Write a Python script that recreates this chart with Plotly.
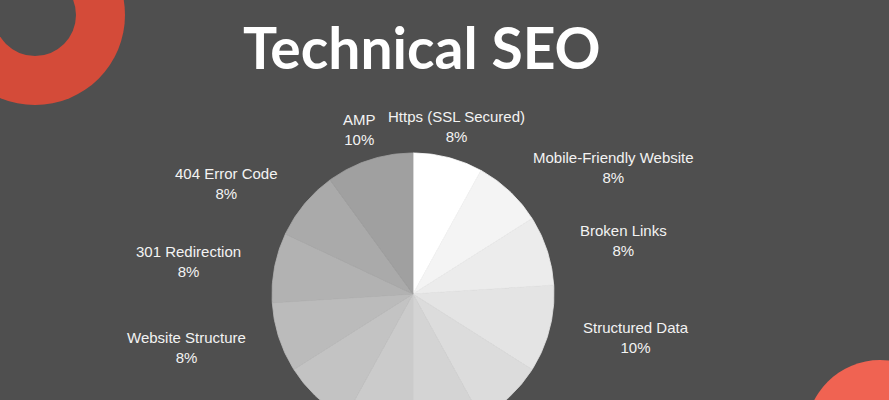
import math
import plotly.graph_objects as go

# Technical SEO factors, clockwise from 12 o'clock
categories = [
    "Https (SSL Secured)", "Mobile-Friendly Website", "Broken Links",
    "Structured Data", "Page Speed", "XML Sitemap", "Robots.txt",
    "Canonical Tags", "Website Structure", "301 Redirection",
    "404 Error Code", "AMP",
]
shares = [8, 8, 8, 10, 8, 8, 8, 8, 8, 8, 8, 10]
slice_colors = [
    "#ffffff", "#f4f4f4", "#ececec", "#e4e4e4", "#dcdcdc", "#d4d4d4",
    "#cbcbcb", "#c3c3c3", "#bbbbbb", "#b2b2b2", "#aaaaaa", "#a0a0a0",
]

W, H = 889, 400
BG = "#4f4f4f"
CX, CY, R = 413, 294, 141     # pie centre and radius (axis units = pixels)
LABEL_R = 173                 # radius at which labels are anchored

fig = go.Figure()

total = sum(shares)
start = 0.0
for name, val, col in zip(categories, shares, slice_colors):
    sweep = 360.0 * val / total
    steps = max(8, int(sweep))
    xs, ys = [CX], [CY]
    for i in range(steps + 1):
        a = math.radians(start + sweep * i / steps)
        xs.append(CX + R * math.sin(a))
        ys.append(CY - R * math.cos(a))
    xs.append(CX)
    ys.append(CY)
    fig.add_trace(go.Scatter(
        x=xs, y=ys, mode="lines", fill="toself", fillcolor=col,
        line=dict(color=col, width=0.8), hoverinfo="text",
        text=f"{name}: {val}%", showlegend=False,
    ))

    mid = math.radians(start + sweep / 2)
    s = math.sin(mid)
    lx = CX + LABEL_R * s
    ly = CY - LABEL_R * math.cos(mid)
    if abs(s) < 0.5:
        anchor = "center"
    elif s > 0:
        anchor = "left"
    else:
        anchor = "right"
    fig.add_annotation(
        x=lx, y=ly, xref="x", yref="y", text=f"{name}<br>{val:g}%",
        showarrow=False, xanchor=anchor, yanchor="middle", align="center",
        font=dict(family="Liberation Sans, Arial, sans-serif", size=15,
                  color="#f3f3f3"),
    )
    start += sweep

# decorative ring (top-left) and disc (bottom-right)
shapes = [
    dict(type="circle", xref="x", yref="y", x0=35 - 90, y0=15 - 90,
         x1=35 + 90, y1=15 + 90, fillcolor="#d44b39", line_width=0,
         layer="below"),
    dict(type="circle", xref="x", yref="y", x0=35 - 41, y0=15 - 41,
         x1=35 + 41, y1=15 + 41, fillcolor=BG, line_width=0, layer="below"),
    dict(type="circle", xref="x", yref="y", x0=880 - 74, y0=434 - 74,
         x1=880 + 74, y1=434 + 74, fillcolor="#f06352", line_width=0,
         layer="below"),
]

fig.add_annotation(
    x=422, y=47, xref="x", yref="y", text="<b>Technical SEO</b>",
    showarrow=False, xanchor="center", yanchor="middle",
    font=dict(family="Lato, sans-serif", size=57, color="#ffffff"),
)

fig.update_layout(
    width=W, height=H, margin=dict(l=0, r=0, t=0, b=0),
    paper_bgcolor=BG, plot_bgcolor=BG, shapes=shapes,
    xaxis=dict(range=[0, W], visible=False, fixedrange=True),
    yaxis=dict(range=[H, 0], visible=False, fixedrange=True),
    showlegend=False,
)

fig.write_html("out.html")
